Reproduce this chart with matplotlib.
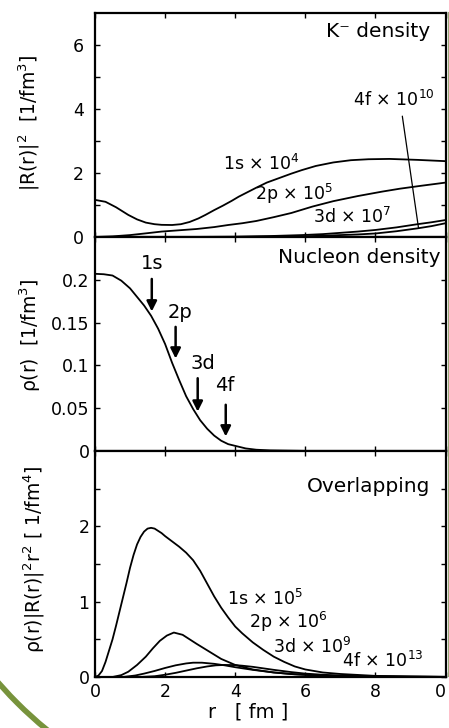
import numpy as np
import matplotlib
matplotlib.use("Agg")
import matplotlib.pyplot as plt
from matplotlib.patches import Arc
from matplotlib.lines import Line2D

# K- density |R(r)|^2 (scaled)
r_1s_k = [0, 0.3, 0.6, 0.95, 1.2, 1.45, 1.7, 1.9, 2.2, 2.45, 2.7, 2.95, 3.15, 3.4, 3.65, 3.9, 4.1, 4.35, 4.6, 4.9, 5.15, 5.4, 5.6, 5.9, 6.3, 6.8, 7.3, 7.8, 8.4, 9.2, 10]
k_1s = [1.16, 1.10, 0.93, 0.69, 0.55, 0.45, 0.40, 0.38, 0.375, 0.40, 0.47, 0.58, 0.69, 0.84, 0.98, 1.13, 1.26, 1.40, 1.54, 1.70, 1.80, 1.90, 1.98, 2.09, 2.22, 2.33, 2.40, 2.43, 2.44, 2.41, 2.37]
r_2p_k = [0, 0.5, 1.0, 1.5, 1.9, 2.4, 2.9, 3.4, 3.8, 4.2, 4.6, 5.1, 5.6, 6.2, 6.8, 7.5, 8.2, 8.7, 9.3, 10]
k_2p = [0, 0.02, 0.06, 0.12, 0.17, 0.21, 0.25, 0.31, 0.375, 0.43, 0.50, 0.62, 0.75, 0.95, 1.12, 1.28, 1.42, 1.51, 1.60, 1.70]
r_3d_k = [0, 2, 3, 4, 5, 5.9, 6.5, 7.0, 7.5, 8.0, 8.6, 9.2, 9.6, 10]
k_3d = [0, 0.0, 0.003, 0.01, 0.03, 0.06, 0.09, 0.13, 0.17, 0.22, 0.30, 0.40, 0.46, 0.53]
r_4f_k = [0, 3, 4, 5, 5.9, 6.5, 7.0, 7.5, 8.0, 8.6, 9.2, 9.6, 10]
k_4f = [0, 0.0, 0.003, 0.01, 0.02, 0.04, 0.06, 0.08, 0.11, 0.18, 0.27, 0.34, 0.43]

# nucleon density rho(r)
r_rho = [0, 0.25, 0.5, 0.75, 1.0, 1.2, 1.4, 1.6, 1.8, 2.0, 2.2, 2.4, 2.6, 2.8, 3.0, 3.2, 3.4, 3.6, 3.8, 4.0, 4.3, 4.6, 5.0, 6.0, 8.0, 10]
rho = [0.207, 0.2065, 0.205, 0.199, 0.190, 0.180, 0.170, 0.158, 0.143, 0.125, 0.103, 0.083, 0.064, 0.049, 0.036, 0.026, 0.018, 0.012, 0.008, 0.006, 0.003, 0.0015, 0.0007, 0.0001, 0, 0]

# overlapping rho |R|^2 r^2 (scaled)
r_1s_o = [0, 0.1, 0.2, 0.3, 0.4, 0.5, 0.6, 0.7, 0.8, 0.9, 1.0, 1.1, 1.2, 1.3, 1.4, 1.5, 1.6, 1.7, 1.8, 1.9, 2.0, 2.2, 2.4, 2.6, 2.8, 3.0, 3.2, 3.4, 3.6, 3.8, 4.0, 4.2, 4.5, 4.8, 5.1, 5.4, 5.7, 6.0, 6.5, 7.0, 8.0, 9.0, 10]
o_1s = [0, 0.02, 0.08, 0.2, 0.35, 0.5, 0.68, 0.87, 1.06, 1.25, 1.45, 1.62, 1.76, 1.86, 1.93, 1.97, 1.98, 1.97, 1.94, 1.91, 1.87, 1.80, 1.73, 1.65, 1.55, 1.41, 1.24, 1.07, 0.92, 0.79, 0.67, 0.58, 0.46, 0.36, 0.27, 0.20, 0.14, 0.10, 0.06, 0.04, 0.015, 0.006, 0.003]
r_2p_o = [0, 0.5, 0.75, 0.95, 1.2, 1.45, 1.65, 1.85, 2.05, 2.25, 2.5, 2.7, 2.9, 3.25, 3.6, 4.0, 4.5, 5.1, 5.7, 6.5, 8.0, 10]
o_2p = [0, 0.0, 0.025, 0.07, 0.16, 0.27, 0.38, 0.48, 0.55, 0.59, 0.56, 0.50, 0.44, 0.34, 0.24, 0.16, 0.10, 0.06, 0.035, 0.015, 0.004, 0.001]
r_3d_o = [0, 0.8, 1.15, 1.4, 1.7, 2.0, 2.3, 2.6, 2.8, 3.05, 3.4, 3.7, 4.0, 4.5, 5.1, 5.6, 6.5, 7.5, 10]
o_3d = [0, 0.0, 0.02, 0.045, 0.08, 0.12, 0.155, 0.18, 0.19, 0.19, 0.175, 0.155, 0.13, 0.095, 0.06, 0.04, 0.02, 0.008, 0.001]
r_4f_o = [0, 1.3, 1.7, 2.0, 2.3, 2.6, 2.9, 3.2, 3.45, 3.7, 4.0, 4.2, 4.5, 4.8, 5.1, 5.6, 6.0, 6.5, 7.5, 10]
o_4f = [0, 0.0, 0.01, 0.03, 0.055, 0.085, 0.115, 0.14, 0.155, 0.16, 0.158, 0.15, 0.135, 0.115, 0.095, 0.065, 0.045, 0.03, 0.01, 0.001]

# arrows on the nucleon density panel
arrow_lbl = ["1s", "2p", "3d", "4f"]
arrow_r = [1.62, 2.3, 2.93, 3.73]
arrow_tail = [0.201, 0.145, 0.085, 0.054]
arrow_head = [0.163, 0.108, 0.046, 0.017]
arrow_lbl_x = [1.62, 2.43, 3.09, 3.71]
arrow_lbl_y = [0.219, 0.162, 0.102, 0.077]

x_ticks = [0, 2, 4, 6, 8, 10]
x_ticklabels = ["0", "2", "4", "6", "8", "0"]

fig = plt.figure(figsize=(4.49, 7.28), dpi=100)
L, W = 95 / 449, 350.5 / 449
ax1 = fig.add_axes([L, 491 / 728, W, 224 / 728])
ax2 = fig.add_axes([L, 277 / 728, W, 214 / 728])
ax3 = fig.add_axes([L, 51 / 728, W, 226 / 728])

lw = 1.3
fs_tick = 12.5
fs_lab = 12.5
fs_ylab = 13.5

for ax in (ax1, ax2, ax3):
    ax.set_xlim(0, 10)
    ax.set_xticks(x_ticks)
    ax.tick_params(direction="in", top=True, right=True, length=3.5, width=1,
                   labelsize=fs_tick, pad=4)
    ax.tick_params(which="minor", direction="in", right=True, length=3.5, width=1)
    for s in ax.spines.values():
        s.set_linewidth(1.6)

# --- top: K- density
ax1.plot(r_1s_k, k_1s, color="k", lw=lw)
ax1.plot(r_2p_k, k_2p, color="k", lw=lw)
ax1.plot(r_3d_k, k_3d, color="k", lw=lw)
ax1.plot(r_4f_k, k_4f, color="k", lw=lw)
ax1.set_ylim(0, 7)
ax1.set_yticks([0, 2, 4, 6])
ax1.set_yticks([1, 3, 5], minor=True)
ax1.set_xticklabels([])
ax1.tick_params(axis="y", pad=8)
ax1.set_ylabel("|R(r)|$^2$  [1/fm$^3$]", fontsize=fs_ylab)
ax1.yaxis.set_label_coords(-0.15, 0.51)
ax1.text(9.57, 6.24, "K⁻ density", ha="right", va="baseline", fontsize=14.5)
ax1.text(3.66, 2.09, "1s × 10$^4$", fontsize=fs_lab, va="baseline")
ax1.text(4.57, 1.16, "2p × 10$^5$", fontsize=fs_lab, va="baseline")
ax1.text(6.23, 0.45, "3d × 10$^7$", fontsize=fs_lab, va="baseline")
ax1.annotate("4f × 10$^{10}$", xy=(9.23, 0.28), xytext=(7.37, 4.09),
             fontsize=fs_lab, va="baseline",
             arrowprops=dict(arrowstyle="-", lw=0.9, color="k",
                             shrinkA=0, shrinkB=0,
                             relpos=(0.6, -0.3)))

# --- middle: nucleon density
ax2.plot(r_rho, rho, color="k", lw=lw)
ax2.set_ylim(0, 0.25)
ax2.set_yticks([0, 0.05, 0.1, 0.15, 0.2])
ax2.set_yticklabels(["0", "0.05", "0.1", "0.15", "0.2"])
ax2.set_xticklabels([])
ax2.set_ylabel("ρ(r)  [1/fm$^3$]", fontsize=fs_ylab)
ax2.yaxis.set_label_coords(-0.148, 0.54)
ax2.text(9.86, 0.220, "Nucleon density", ha="right", va="baseline", fontsize=14.5)
for lbl, x, t, h, lx, ly in zip(arrow_lbl, arrow_r, arrow_tail, arrow_head,
                                arrow_lbl_x, arrow_lbl_y):
    ax2.annotate("", xy=(x, h), xytext=(x, t),
                 arrowprops=dict(arrowstyle="-|>", lw=1.8, color="k",
                                 mutation_scale=15, shrinkA=0, shrinkB=0))
    ax2.text(lx, ly, lbl, ha="center", va="center", fontsize=14)

# --- bottom: overlapping
ax3.plot(r_1s_o, o_1s, color="k", lw=lw)
ax3.plot(r_2p_o, o_2p, color="k", lw=lw)
ax3.plot(r_3d_o, o_3d, color="k", lw=lw)
ax3.plot(r_4f_o, o_4f, color="k", lw=lw)
ax3.set_ylim(0, 3)
ax3.set_yticks([0, 1, 2])
ax3.set_yticks([0.5, 1.5, 2.5], minor=True)
ax3.set_xticklabels(x_ticklabels)
ax3.get_xticklabels()[-1].set_horizontalalignment("right")
ax3.set_ylabel("ρ(r)|R(r)|$^2$r$^2$ [ 1/fm$^4$]", fontsize=fs_ylab)
ax3.yaxis.set_label_coords(-0.137, 0.52)
ax3.set_xlabel("r   [ fm ]", fontsize=14)
ax3.xaxis.set_label_coords(0.437, -0.115)
ax3.text(9.57, 2.45, "Overlapping", ha="right", va="baseline", fontsize=14.5)
ax3.text(3.76, 0.96, "1s × 10$^5$", fontsize=fs_lab, va="baseline")
ax3.text(4.38, 0.65, "2p × 10$^6$", fontsize=fs_lab, va="baseline")
ax3.text(5.09, 0.32, "3d × 10$^9$", fontsize=fs_lab, va="baseline")
ax3.text(7.05, 0.13, "4f × 10$^{13}$", fontsize=fs_lab, va="baseline")

# slide decoration: green arc bottom-left, thin line on right edge
arc = Arc((300 / 449, 1 - 420 / 728), 2 * 400 / 449, 2 * 400 / 728,
          theta1=180, theta2=270, transform=fig.transFigure,
          color="#77933C", lw=4, clip_on=False)
fig.add_artist(arc)
fig.add_artist(Line2D([447.5 / 449, 447.5 / 449], [1 - 12 / 728, 1 - 676 / 728],
                      transform=fig.transFigure, color="#9aa878", lw=0.8))

fig.savefig("out.png", dpi=100)
